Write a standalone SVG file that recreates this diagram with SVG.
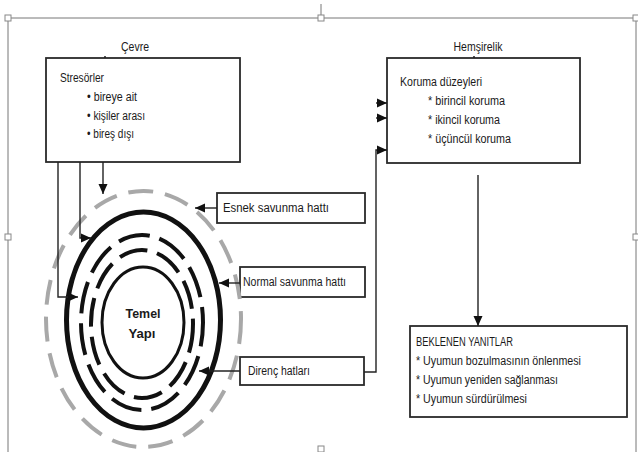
<svg xmlns="http://www.w3.org/2000/svg" width="638" height="452" viewBox="0 0 638 452">
<defs>
<marker id="ah" markerUnits="userSpaceOnUse" markerWidth="10" markerHeight="10" viewBox="0 0 10 10" refX="10" refY="5" orient="auto">
<path d="M0,0.5 L10,5 L0,9.5 Z" fill="#111"/>
</marker>
<style>
text{font-family:"Liberation Sans",Arial,sans-serif;font-size:12px;fill:#1a1a1a}
.box{fill:#fff;stroke:#2a2a2a;stroke-width:1.8}
.con{fill:none;stroke:#222;stroke-width:1.4}
.frame{fill:none;stroke:#777;stroke-width:1}
.h{fill:#fff;stroke:#888;stroke-width:1}
.b{font-weight:bold;font-size:13px}
</style>
</defs>
<rect width="638" height="452" fill="#fff"/>
<g id="frame">
<path class="frame" d="M8,18 H636 M8,18 V452 M636,18 V452 M321,4 V15"/>
<rect class="h" x="5" y="15" width="6" height="6"/>
<rect class="h" x="318" y="15" width="6" height="6"/>
<rect class="h" x="633" y="15" width="6" height="6"/>
<rect class="h" x="5" y="234" width="6" height="6"/>
<rect class="h" x="633" y="234" width="6" height="6"/>
<rect class="h" x="318" y="446" width="6" height="6"/>
</g>
<g id="cevre-label"><text x="135" y="51" text-anchor="middle" textLength="28" lengthAdjust="spacingAndGlyphs">Çevre</text></g>
<g id="hemsirelik-label"><text x="478" y="51" text-anchor="middle" textLength="49" lengthAdjust="spacingAndGlyphs">Hemşirelik</text></g>
<g id="stresorler">
<rect class="box" x="46" y="58" width="194" height="104"/>
<path d="M105,56 V58" stroke="#222" stroke-width="1.5"/>
<text x="60" y="82" textLength="44" lengthAdjust="spacingAndGlyphs">Stresörler</text>
<text x="87" y="101" textLength="50" lengthAdjust="spacingAndGlyphs">• bireye ait</text>
<text x="87" y="120" textLength="58" lengthAdjust="spacingAndGlyphs">• kişiler arası</text>
<text x="87" y="138" textLength="47" lengthAdjust="spacingAndGlyphs">• bireş dışı</text>
</g>
<g id="koruma">
<rect class="box" x="387" y="58" width="193" height="105"/>
<path d="M474,56 V58" stroke="#222" stroke-width="1.5"/>
<text x="400" y="86" textLength="82" lengthAdjust="spacingAndGlyphs">Koruma düzeyleri</text>
<text x="428" y="105" textLength="77" lengthAdjust="spacingAndGlyphs">* birincil koruma</text>
<text x="428" y="124" textLength="72" lengthAdjust="spacingAndGlyphs">* ikincil koruma</text>
<text x="428" y="143" textLength="83" lengthAdjust="spacingAndGlyphs">* üçüncül koruma</text>
</g>
<g id="beklenen">
<rect class="box" x="410" y="326" width="217" height="91"/>
<text x="416" y="346" textLength="97" lengthAdjust="spacingAndGlyphs">BEKLENEN YANITLAR</text>
<text x="416" y="365" textLength="165" lengthAdjust="spacingAndGlyphs">* Uyumun bozulmasının önlenmesi</text>
<text x="416" y="384" textLength="142" lengthAdjust="spacingAndGlyphs">* Uyumun yeniden sağlanması</text>
<text x="416" y="403" textLength="111" lengthAdjust="spacingAndGlyphs">* Uyumun sürdürülmesi</text>
</g>
<g id="esnek">
<rect class="box" x="217" y="193" width="148" height="30"/>
<text x="223" y="212" textLength="106" lengthAdjust="spacingAndGlyphs">Esnek savunma hattı</text>
</g>
<g id="normal">
<rect class="box" x="240" y="267" width="125" height="30"/>
<text x="243" y="286" textLength="103" lengthAdjust="spacingAndGlyphs">Normal savunma hattı</text>
</g>
<g id="direnc">
<rect class="box" x="240" y="357" width="124" height="28"/>
<text x="248" y="375" textLength="62" lengthAdjust="spacingAndGlyphs">Direnç hatları</text>
</g>
<g id="temel-yapi">
<ellipse cx="143.5" cy="319" rx="97.5" ry="128" fill="none" stroke="#a8a8a8" stroke-width="4" stroke-dasharray="25 12"/>
<ellipse cx="143.5" cy="320" rx="77" ry="108" fill="none" stroke="#111" stroke-width="5"/>
<ellipse cx="142" cy="322.5" rx="61" ry="87.5" fill="none" stroke="#111" stroke-width="4" stroke-dasharray="32 10" stroke-dashoffset="8"/>
<ellipse cx="142" cy="324" rx="51" ry="74" fill="none" stroke="#111" stroke-width="4" stroke-dasharray="29 10"/>
<ellipse cx="143" cy="322.5" rx="41" ry="55.5" fill="none" stroke="#111" stroke-width="3"/>
<text class="b" x="143" y="318" text-anchor="middle" textLength="35" lengthAdjust="spacingAndGlyphs">Temel</text>
<text class="b" x="142" y="338" text-anchor="middle" textLength="27" lengthAdjust="spacingAndGlyphs">Yapı</text>
</g>
<g id="connectors">
<path class="con" d="M58,162 V297 H78" marker-end="url(#ah)"/>
<path class="con" d="M80,162 V238 H91" marker-end="url(#ah)"/>
<path class="con" d="M103,162 V194" marker-end="url(#ah)"/>
<path class="con" d="M217,208 H195" marker-end="url(#ah)"/>
<path class="con" d="M240,283 H219" marker-end="url(#ah)"/>
<path class="con" d="M240,371 H199" marker-end="url(#ah)"/>
<path class="con" d="M364,372 H376 V150 H387" marker-end="url(#ah)"/>
<path class="con" d="M376,103 H387" marker-end="url(#ah)"/>
<path class="con" d="M376,118 H387" marker-end="url(#ah)"/>
<path class="con" d="M478,175 V326" marker-end="url(#ah)"/>
</g>
</svg>
